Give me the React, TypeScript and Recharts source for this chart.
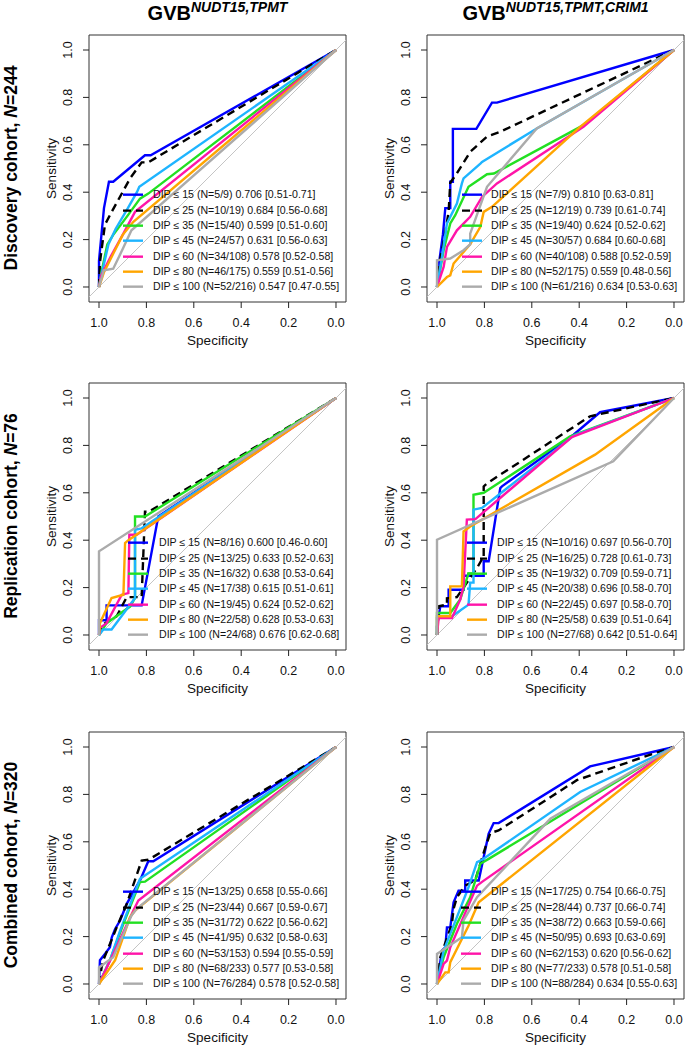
import React from 'react';
import { LineChart, Line, XAxis, YAxis, ReferenceLine, ReferenceArea, Legend } from 'recharts';

type Pt = [number, number];

// ---------- data ----------
const THRESHOLDS = [15, 25, 35, 45, 60, 80, 100];
const X_TICKS = [1, 0.8, 0.6, 0.4, 0.2, 0];
const Y_TICKS = [0, 0.2, 0.4, 0.6, 0.8, 1];

// Discovery cohort, GVB NUDT15,TPMT  — [specificity, sensitivity]
const discA: Pt[][] = [
  [[1, 0], [1, 0.111], [0.979, 0.333], [0.958, 0.444], [0.94, 0.444], [0.806, 0.556], [0.782, 0.556], [0, 1]],
  [[1, 0], [0.996, 0.105], [0.975, 0.263], [0.947, 0.316], [0.869, 0.458], [0.82, 0.526], [0.792, 0.526], [0, 1]],
  [[1, 0], [0.99, 0.06], [0.965, 0.18], [0.94, 0.22], [0.88, 0.3], [0.827, 0.373], [0.792, 0.394], [0, 1]],
  [[1, 0], [0.99, 0.05], [0.96, 0.18], [0.93, 0.245], [0.88, 0.33], [0.84, 0.4], [0.83, 0.423], [0, 1]],
  [[1, 0], [0.99, 0.05], [0.95, 0.13], [0.9, 0.22], [0.848, 0.317], [0, 1]],
  [[1, 0], [0.98, 0.06], [0.94, 0.14], [0.9, 0.22], [0.855, 0.275], [0, 1]],
  [[1, 0], [0.98, 0.07], [0.94, 0.077], [0.9, 0.16], [0.863, 0.239], [0, 1]],
];
const discA_n = ['5/9', '10/19', '15/40', '24/57', '34/108', '46/175', '52/216'];
const discA_auc = ['0.706', '0.684', '0.599', '0.631', '0.578', '0.559', '0.547'];
const discA_ci = ['0.51-0.71', '0.56-0.68', '0.51-0.60', '0.56-0.63', '0.52-0.58', '0.51-0.56', '0.47-0.55'];

// Discovery cohort, GVB NUDT15,TPMT,CRIM1
const discB: Pt[][] = [
  [[1, 0], [0.99, 0.111], [0.975, 0.222], [0.965, 0.333], [0.944, 0.333], [0.944, 0.444], [0.933, 0.444], [0.933, 0.667], [0.834, 0.667], [0.768, 0.778], [0.747, 0.778], [0, 1]],
  [[1, 0], [0.99, 0.1], [0.97, 0.2], [0.951, 0.317], [0.944, 0.44], [0.916, 0.48], [0.86, 0.57], [0.79, 0.634], [0.733, 0.655], [0, 1]],
  [[1, 0], [0.972, 0.155], [0.944, 0.268], [0.923, 0.303], [0.867, 0.423], [0.789, 0.476], [0.76, 0.479], [0.382, 0.683], [0, 1]],
  [[1, 0], [0.979, 0.127], [0.958, 0.268], [0.916, 0.352], [0.895, 0.437], [0.888, 0.458], [0.817, 0.521], [0.81, 0.528], [0.579, 0.669], [0, 1]],
  [[1, 0], [0.972, 0.085], [0.958, 0.169], [0.916, 0.239], [0.86, 0.296], [0.81, 0.38], [0.747, 0.437], [0.382, 0.676], [0, 1]],
  [[1, 0], [0.958, 0.042], [0.944, 0.049], [0.93, 0.099], [0.86, 0.18], [0.817, 0.254], [0.803, 0.317], [0.768, 0.338], [0.396, 0.676], [0, 1]],
  [[1, 0], [1, 0.113], [0.944, 0.12], [0.888, 0.155], [0.86, 0.18], [0.86, 0.225], [0.789, 0.423], [0.579, 0.669], [0, 1]],
];
const discB_n = ['7/9', '12/19', '19/40', '30/57', '40/108', '52/175', '61/216'];
const discB_auc = ['0.810', '0.739', '0.624', '0.684', '0.588', '0.559', '0.634'];
const discB_ci = ['0.63-0.81', '0.61-0.74', '0.52-0.62', '0.60-0.68', '0.52-0.59', '0.48-0.56', '0.53-0.63'];

// Replication cohort, GVB NUDT15,TPMT
const replA: Pt[][] = [
  [[1, 0], [1, 0.062], [0.968, 0.062], [0.968, 0.125], [0.82, 0.125], [0.75, 0.5], [0, 1]],
  [[1, 0], [0.989, 0.04], [0.925, 0.08], [0.883, 0.16], [0.82, 0.16], [0.806, 0.52], [0.79, 0.52], [0, 1]],
  [[1, 0], [0.968, 0.05], [0.869, 0.12], [0.848, 0.156], [0.848, 0.5], [0.806, 0.5], [0, 1]],
  [[1, 0], [0.982, 0.023], [0.947, 0.023], [0.848, 0.156], [0.848, 0.444], [0.82, 0.45], [0, 1]],
  [[1, 0], [0.996, 0.03], [0.968, 0.05], [0.904, 0.17], [0.876, 0.177], [0.872, 0.423], [0.841, 0.423], [0, 1]],
  [[1, 0], [0.996, 0.05], [0.947, 0.156], [0.897, 0.17], [0.89, 0.388], [0.876, 0.4], [0, 1]],
  [[1, 0], [1, 0.353], [0, 1]],
];
const replA_n = ['8/16', '13/25', '16/32', '17/38', '19/45', '22/58', '24/68'];
const replA_auc = ['0.600', '0.633', '0.638', '0.615', '0.624', '0.628', '0.676'];
const replA_ci = ['0.46-0.60', '0.52-0.63', '0.53-0.64', '0.51-0.61', '0.52-0.62', '0.53-0.63', '0.62-0.68'];

// Replication cohort, GVB NUDT15,TPMT,CRIM1
const replB: Pt[][] = [
  [[1, 0], [1, 0.037], [0.986, 0.121], [0.951, 0.121], [0.951, 0.191], [0.888, 0.191], [0.888, 0.25], [0.803, 0.25], [0.803, 0.311], [0.782, 0.311], [0.733, 0.62], [0.726, 0.627], [0.424, 0.845], [0.312, 0.94], [0, 1]],
  [[1, 0], [0.993, 0.121], [0.958, 0.128], [0.958, 0.155], [0.916, 0.16], [0.831, 0.283], [0.81, 0.32], [0.803, 0.32], [0.803, 0.627], [0.789, 0.64], [0.354, 0.923], [0, 1]],
  [[1, 0], [1, 0.093], [0.944, 0.093], [0.902, 0.15], [0.867, 0.26], [0.846, 0.26], [0.846, 0.592], [0.803, 0.6], [0.438, 0.838], [0, 1]],
  [[1, 0], [1, 0.072], [0.937, 0.079], [0.867, 0.128], [0.86, 0.221], [0.846, 0.221], [0.846, 0.529], [0.81, 0.536], [0.424, 0.841], [0, 1]],
  [[1, 0], [0.993, 0.072], [0.937, 0.072], [0.902, 0.149], [0.888, 0.206], [0.874, 0.487], [0.838, 0.489], [0.431, 0.835], [0, 1]],
  [[1, 0], [1, 0.079], [0.944, 0.079], [0.944, 0.205], [0.895, 0.205], [0.888, 0.437], [0.86, 0.458], [0.333, 0.761], [0, 1]],
  [[1, 0], [1, 0.402], [0.256, 0.733], [0, 1]],
];
const replB_n = ['10/16', '16/25', '19/32', '20/38', '22/45', '25/58', '27/68'];
const replB_auc = ['0.697', '0.728', '0.709', '0.696', '0.697', '0.639', '0.642'];
const replB_ci = ['0.56-0.70', '0.61-0.73', '0.59-0.71', '0.58-0.70', '0.58-0.70', '0.51-0.64', '0.51-0.64'];

// Combined cohort, GVB NUDT15,TPMT
const combA: Pt[][] = [
  [[1, 0], [0.996, 0.1], [0.975, 0.127], [0.954, 0.155], [0.946, 0.197], [0.932, 0.232], [0.911, 0.268], [0.883, 0.338], [0.827, 0.437], [0.792, 0.518], [0.771, 0.518], [0, 1]],
  [[1, 0], [0.989, 0.07], [0.982, 0.1], [0.925, 0.24], [0.883, 0.338], [0.82, 0.521], [0.792, 0.524], [0, 1]],
  [[1, 0], [0.954, 0.1], [0.897, 0.254], [0.827, 0.43], [0.806, 0.432], [0, 1]],
  [[1, 0], [0.954, 0.1], [0.911, 0.225], [0.827, 0.444], [0, 1]],
  [[1, 0], [0.94, 0.127], [0.855, 0.31], [0.834, 0.352], [0, 1]],
  [[1, 0], [0.932, 0.1], [0.869, 0.282], [0.848, 0.31], [0, 1]],
  [[1, 0], [1, 0.07], [0.94, 0.113], [0.863, 0.289], [0.841, 0.317], [0, 1]],
];
const combA_n = ['13/25', '23/44', '31/72', '41/95', '53/153', '68/233', '76/284'];
const combA_auc = ['0.658', '0.667', '0.622', '0.632', '0.594', '0.577', '0.578'];
const combA_ci = ['0.55-0.66', '0.59-0.67', '0.56-0.62', '0.58-0.63', '0.55-0.59', '0.53-0.58', '0.52-0.58'];

// Combined cohort, GVB NUDT15,TPMT,CRIM1
const combB: Pt[][] = [
  [[1, 0], [0.979, 0.141], [0.965, 0.155], [0.958, 0.239], [0.944, 0.239], [0.93, 0.345], [0.909, 0.394], [0.881, 0.394], [0.881, 0.437], [0.824, 0.437], [0.782, 0.634], [0.761, 0.679], [0.74, 0.679], [0.354, 0.918], [0, 1]],
  [[1, 0], [0.986, 0.113], [0.937, 0.254], [0.93, 0.317], [0.916, 0.366], [0.881, 0.415], [0.839, 0.437], [0.796, 0.577], [0.775, 0.637], [0.74, 0.648], [0.41, 0.86], [0.129, 0.958], [0, 1]],
  [[1, 0], [0.972, 0.113], [0.916, 0.254], [0.86, 0.366], [0.817, 0.507], [0.782, 0.528], [0, 1]],
  [[1, 0], [0.972, 0.141], [0.916, 0.282], [0.867, 0.408], [0.831, 0.514], [0.81, 0.524], [0.396, 0.81], [0, 1]],
  [[1, 0], [0.972, 0.085], [0.958, 0.099], [0.944, 0.155], [0.831, 0.415], [0.81, 0.431], [0, 1]],
  [[1, 0], [0.965, 0.049], [0.951, 0.049], [0.944, 0.092], [0.867, 0.246], [0.824, 0.345], [0, 1]],
  [[1, 0], [1, 0.127], [0.958, 0.155], [0.895, 0.197], [0.888, 0.268], [0.831, 0.366], [0.522, 0.697], [0, 1]],
];
const combB_n = ['17/25', '28/44', '38/72', '50/95', '62/153', '77/233', '88/284'];
const combB_auc = ['0.754', '0.737', '0.663', '0.693', '0.620', '0.578', '0.634'];
const combB_ci = ['0.66-0.75', '0.66-0.74', '0.59-0.66', '0.63-0.69', '0.56-0.62', '0.51-0.58', '0.55-0.63'];

// ---------- style ----------
const FONT = '"Liberation Sans", Arial, Helvetica, sans-serif';
const COLORS = ['#0000FF', '#000000', '#22E022', '#1EB4FF', '#FF14A8', '#FFA500', '#ABABAB'];
const DASHES = [undefined, '8 5', undefined, undefined, undefined, undefined, undefined];
const XMIN = -0.0422, XMAX = 1.0422, YMIN = -0.0633, YMAX = 1.0633;
const PW = 257, PH = 267; // plot box size
const ML = 60, MT = 10; // box offset inside each chart

const makeLabels = (n: string[], auc: string[], ci: string[]) =>
  THRESHOLDS.map((t, i) => `DIP \u2264 ${t} (N=${n[i]}) ${auc[i]} [${ci[i]}]`);

const PANELS = [
  { curves: discA, labels: makeLabels(discA_n, discA_auc, discA_ci), bx: 89, by: 35, lx: 34, tx: 64 },
  { curves: discB, labels: makeLabels(discB_n, discB_auc, discB_ci), bx: 427, by: 35, lx: 35, tx: 64 },
  { curves: replA, labels: makeLabels(replA_n, replA_auc, replA_ci), bx: 89, by: 383, lx: 39, tx: 70 },
  { curves: replB, labels: makeLabels(replB_n, replB_auc, replB_ci), bx: 427, by: 383, lx: 40, tx: 70 },
  { curves: combA, labels: makeLabels(combA_n, combA_auc, combA_ci), bx: 89, by: 732, lx: 34, tx: 64 },
  { curves: combB, labels: makeLabels(combB_n, combB_auc, combB_ci), bx: 427, by: 732, lx: 34, tx: 64 },
];

const ROW_LABELS = [
  { text: 'Discovery cohort, ', n: '244', cy: 168 },
  { text: 'Replication cohort, ', n: '76', cy: 516 },
  { text: 'Combined cohort, ', n: '320', cy: 865 },
];

const XTick = (props: any) => {
  const { x, payload } = props;
  return (
    <text x={x} y={MT + PH + 21} dy="0.35em" textAnchor="middle" fontSize={12.5} fontFamily={FONT} fill="#111">
      {Number(payload.value).toFixed(1)}
    </text>
  );
};

const YTick = (props: any) => {
  const { y, payload } = props;
  const x = ML - 21;
  return (
    <text x={x} y={y} dy="0.35em" transform={`rotate(-90 ${x} ${y})`} textAnchor="middle" fontSize={12.5} fontFamily={FONT} fill="#111">
      {Number(payload.value).toFixed(1)}
    </text>
  );
};

const makeLegend = (labels: string[], lx: number, tx: number) => () => (
  <div style={{ fontFamily: FONT, fontSize: 10.6, color: '#111' }}>
    {labels.map((t, i) => (
      <div key={i} style={{ display: 'flex', alignItems: 'center', height: 15.33, whiteSpace: 'nowrap' }}>
        <svg width={tx} height={15.33} style={{ display: 'block', flex: 'none' }}>
          <line x1={lx} x2={lx + 20} y1={7.67} y2={7.67} stroke={COLORS[i]} strokeWidth={2.4} strokeDasharray={DASHES[i]} />
        </svg>
        <span style={{ lineHeight: '15.33px' }}>{t}</span>
      </div>
    ))}
  </div>
);

const RocPanel = ({ p }: { p: (typeof PANELS)[number] }) => (
  <div style={{ position: 'absolute', left: p.bx - ML, top: p.by - MT }}>
    <LineChart width={ML + PW + 1} height={MT + PH + 46} margin={{ top: MT, right: 1, left: 0, bottom: 0 }}>
      <XAxis
        type="number"
        dataKey="x"
        domain={[XMIN, XMAX]}
        reversed
        ticks={X_TICKS}
        interval={0}
        allowDataOverflow
        axisLine={false}
        tickLine={{ stroke: '#222' }}
        tickSize={6}
        tick={XTick}
        height={46}
      />
      <YAxis
        type="number"
        dataKey="y"
        domain={[YMIN, YMAX]}
        ticks={Y_TICKS}
        interval={0}
        allowDataOverflow
        axisLine={false}
        tickLine={{ stroke: '#222' }}
        tickSize={6}
        tick={YTick}
        width={ML}
      />
      <ReferenceLine
        segment={[{ x: XMAX, y: -0.0422 }, { x: XMIN, y: 1.0422 }]}
        stroke="#C4C4C4"
        strokeWidth={1}
        ifOverflow="visible"
      />
      {p.curves.map((pts, i) => (
        <Line
          key={i}
          data={pts.map(([x, y]) => ({ x, y }))}
          dataKey="y"
          type="linear"
          stroke={COLORS[i]}
          strokeWidth={2.4}
          strokeDasharray={DASHES[i]}
          dot={false}
          activeDot={false}
          isAnimationActive={false}
        />
      ))}
      <ReferenceArea x1={XMIN} x2={XMAX} y1={YMIN} y2={YMAX} fill="none" stroke="#333" strokeWidth={1} ifOverflow="visible" />
      <Legend
        layout="vertical"
        align="center"
        verticalAlign="middle"
        content={makeLegend(p.labels, p.lx, p.tx)}
        wrapperStyle={{ left: ML, top: MT + 160 - 7.67, width: 'auto', height: 'auto', margin: 0 }}
      />
    </LineChart>
  </div>
);

export default function App() {
  return (
    <div style={{ position: 'absolute', left: 0, top: 0, width: 685, height: 1047, overflow: 'hidden', background: '#fff' }}>
      <svg width={685} height={1047} style={{ position: 'absolute', left: 0, top: 0 }}>
        <text x={217.5} y={20} textAnchor="middle" fontFamily={FONT} fontWeight="bold" fontSize={20} fill="#000">
          GVB
          <tspan fontSize={14} fontStyle="italic" dy={-8}>NUDT15,TPMT</tspan>
        </text>
        <text x={555.5} y={20} textAnchor="middle" fontFamily={FONT} fontWeight="bold" fontSize={20} fill="#000">
          GVB
          <tspan fontSize={14} fontStyle="italic" dy={-8}>NUDT15,TPMT,CRIM1</tspan>
        </text>
        {ROW_LABELS.map((r, i) => (
          <text key={i} x={17} y={r.cy} transform={`rotate(-90 17 ${r.cy})`} textAnchor="middle" fontFamily={FONT} fontWeight="bold" fontSize={17.5} fill="#000">
            {r.text}
            <tspan fontStyle="italic">N</tspan>={r.n}
          </text>
        ))}
        {PANELS.map((p, i) => (
          <g key={i} fontFamily={FONT} fontSize={13.5} fill="#111">
            <text x={p.bx + PW / 2} y={p.by + PH + 38} dy="0.35em" textAnchor="middle">Specificity</text>
            <text x={p.bx - 38} y={p.by + PH / 2} dy="0.35em" textAnchor="middle" transform={`rotate(-90 ${p.bx - 38} ${p.by + PH / 2})`}>Sensitivity</text>
          </g>
        ))}
      </svg>
      {PANELS.map((p, i) => (
        <RocPanel key={i} p={p} />
      ))}
    </div>
  );
}
